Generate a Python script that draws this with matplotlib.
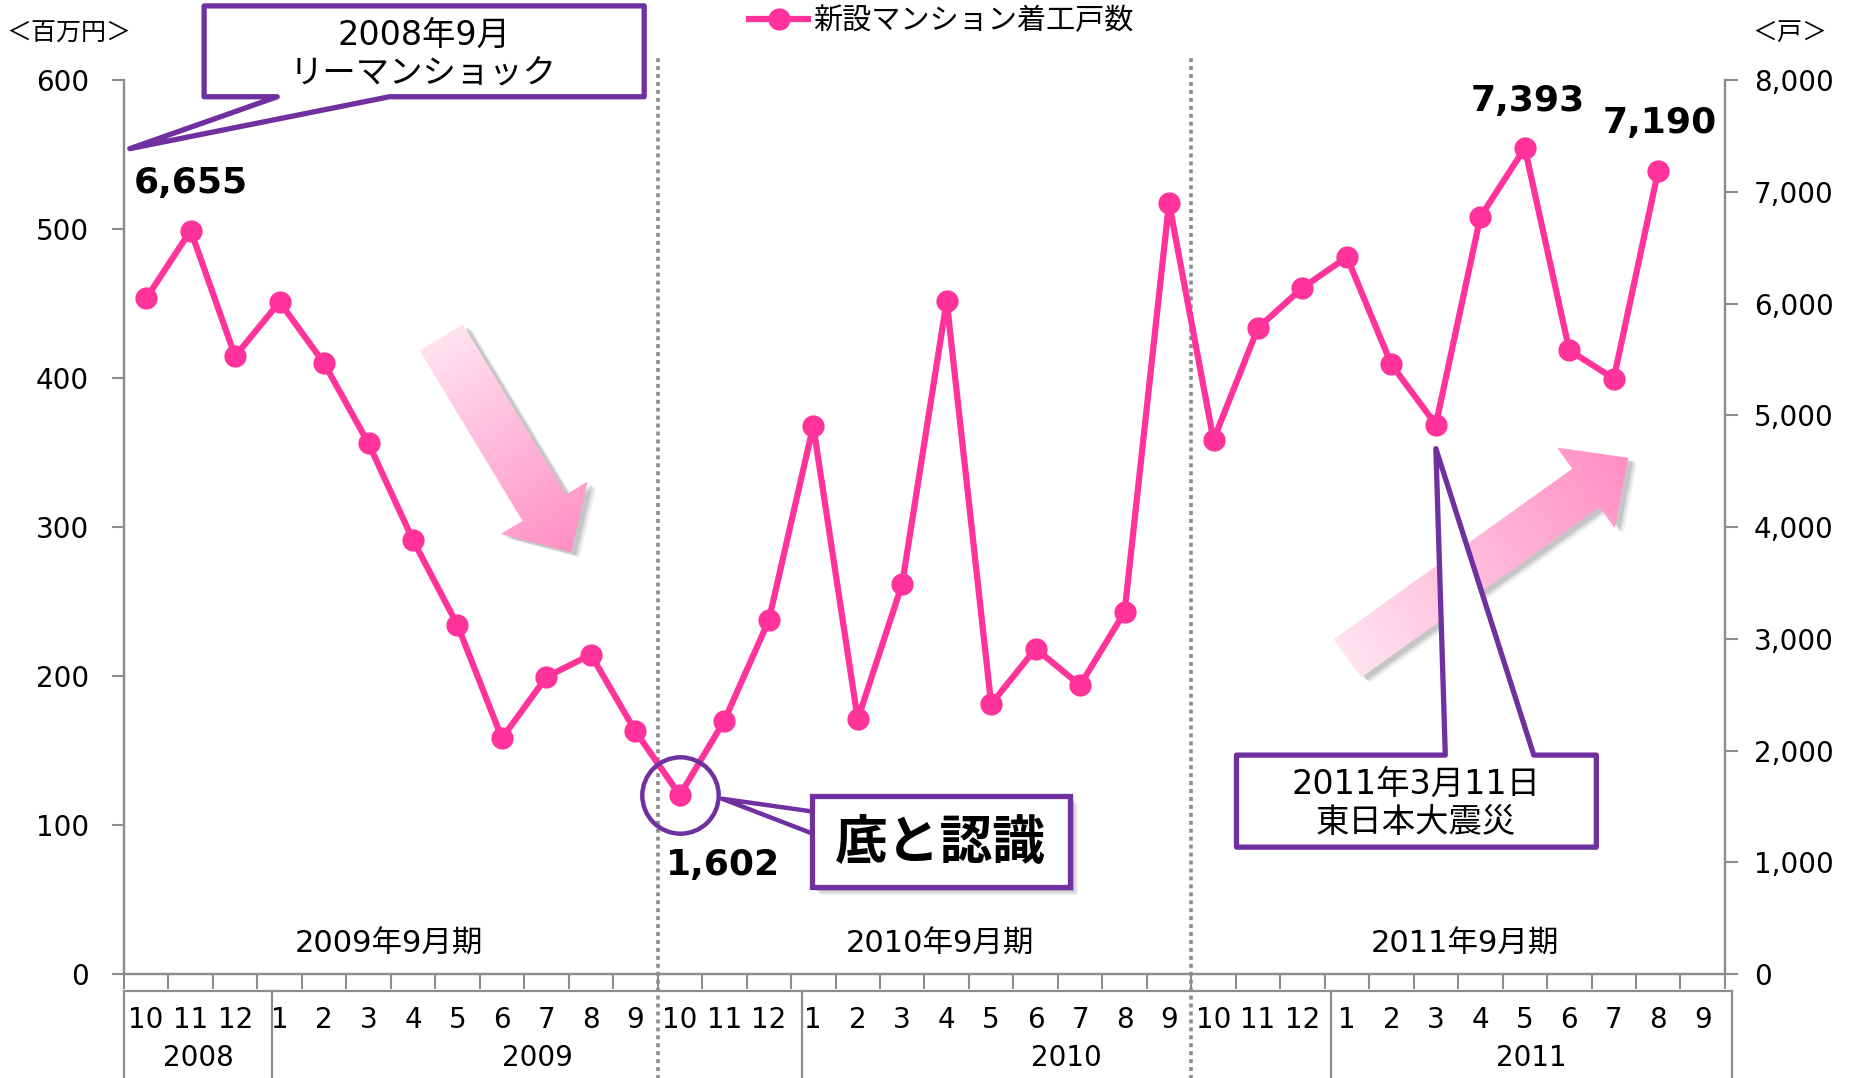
import numpy as np
import matplotlib
matplotlib.use('Agg')
import matplotlib.pyplot as plt
from matplotlib.patches import Polygon, Rectangle
from matplotlib.ticker import FuncFormatter

# DejaVu for digits (wide like the original), Noto for the Japanese glyphs
plt.rcParams['font.family'] = ['DejaVu Sans', 'Noto Sans CJK JP']

# 新設マンション着工戸数 (2008/10 - 2011/8)
starts = [6047, 6655, 5530, 6016, 5467, 4749, 3884, 3124, 2111, 2660, 2860, 2174,
          1602, 2269, 3166, 4908, 2280, 3493, 6026, 2417, 2913, 2586, 3240, 6902,
          4781, 5784, 6142, 6417, 5456, 4918, 6776, 7393, 5583, 5330, 7190]
month_labels = ['10', '11', '12'] + [str(m) for m in range(1, 10)] \
    + ['10', '11', '12'] + [str(m) for m in range(1, 10)] \
    + ['10', '11', '12'] + [str(m) for m in range(1, 10)]
year_labels = ['2008', '2009', '2010', '2011']
year_edges = [0, 3.33, 15.25, 27.14, 36.15]
period_labels = ['2009年9月期', '2010年9月期', '2011年9月期']
period_centers = [5.95, 18.35, 30.15]
left_ticks = [0, 100, 200, 300, 400, 500, 600]
right_ticks = [0, 1000, 2000, 3000, 4000, 5000, 6000, 7000, 8000]
peak_labels = {1: (0, 34), 12: (31, -50), 31: (2, 34), 34: (1, 34)}

PINK = '#FF3399'
PURPLE = '#7030A0'
GRAY = '#8C8C8C'
S = 1850 / 1568


def P(x, y):
    return (x * S, y * S)


fig = plt.figure(figsize=(18.5, 10.78), dpi=100)
ax = fig.add_axes([0.0670, 0.0963, 0.8654, 0.8293])
ax2 = ax.twinx()

n = len(month_labels)
x = np.arange(len(starts)) + 0.5
line, = ax2.plot(x, starts, color=PINK, lw=4.5, marker='o', ms=15,
                 mfc=PINK, mec=PINK, zorder=4)

ax.set_xlim(0, n)
ax.set_ylim(0, 600)
ax2.set_ylim(0, 8000)
ax.set_yticks(left_ticks)
ax2.set_yticks(right_ticks)
ax2.yaxis.set_major_formatter(FuncFormatter(lambda v, p: f'{int(v):,}'))
ax.set_xticks(range(n + 1))
ax.set_xticklabels([])

for a in (ax, ax2):
    a.spines['top'].set_visible(False)
    for s in ('left', 'right', 'bottom'):
        a.spines[s].set_color(GRAY)
        a.spines[s].set_linewidth(1.6)
ax.tick_params(axis='y', direction='out', length=9, width=1.5, color=GRAY,
               labelsize=20, pad=16)
ax2.tick_params(axis='y', direction='out', length=9, width=1.5, color=GRAY,
                labelsize=20, pad=12)
ax.tick_params(axis='x', direction='out', length=11, width=1.5, color=GRAY)

# fiscal-year dividers
for xd in (12, 24):
    ax.plot([xd, xd], [-0.13, 1.028], transform=ax.get_xaxis_transform(),
            color=GRAY, lw=2.6, ls=(0, (1.1, 1.1)), clip_on=False, zorder=1)

for lab, xc in zip(period_labels, period_centers):
    ax.text(xc, 0.034, lab, transform=ax.get_xaxis_transform(),
            ha='center', va='center', fontsize=22)

# month / year table under the axis
tr = ax.get_xaxis_transform()
ax.plot([0, year_edges[-1]], [-0.0185, -0.0185], transform=tr, color=GRAY,
        lw=1.6, clip_on=False)
for xe in year_edges:
    ax.plot([xe, xe], [-0.0185, -0.13], transform=tr, color=GRAY, lw=1.6,
            clip_on=False)
for i, m in enumerate(month_labels):
    ax.text(i + 0.5, -0.051, m, transform=tr, ha='center', va='center',
            fontsize=20)
for i, y in enumerate(year_labels):
    ax.text((year_edges[i] + year_edges[i + 1]) / 2, -0.094, y, transform=tr,
            ha='center', va='center', fontsize=20)

# value labels
for i, (dx, dy) in peak_labels.items():
    ax2.annotate(f'{starts[i]:,}', xy=(x[i], starts[i]), xytext=(dx, dy),
                 textcoords='offset points', ha='center', va='center',
                 fontsize=26, fontweight='bold', annotation_clip=False)

# circle at the bottom
ax2.plot(x[12], starts[12], marker='o', ms=55, mfc='none', mec=PURPLE,
         mew=3.2, zorder=5, clip_on=False)

# legend and units
fig.legend(handles=[line], labels=['新設マンション着工戸数'], loc='center',
           bbox_to_anchor=(0.509, 0.980), frameon=False, fontsize=21,
           handlelength=2.0, handletextpad=0.2, numpoints=1)
fig.text(0.037, 0.969, '＜百万円＞', ha='center', va='center', fontsize=18)
fig.text(0.9675, 0.969, '＜戸＞', ha='center', va='center', fontsize=18)

# overlay for callouts and arrows (figure pixel coordinates)
ov = fig.add_axes([0, 0, 1, 1], zorder=5)
ov.set_xlim(0, 1850)
ov.set_ylim(1078, 0)
ov.axis('off')
ov.set_autoscale_on(False)


def arrow(tail, tip, w, hw, hl, c0, c1):
    t = np.array(P(*tail))
    h = np.array(P(*tip))
    w, hw, hl = w * S, hw * S, hl * S
    d = h - t
    L = np.hypot(*d)
    u = d / L
    nrm = np.array([-u[1], u[0]])
    b = h - u * hl
    pts = [t + nrm * w / 2, b + nrm * w / 2, b + nrm * hw / 2, h,
           b - nrm * hw / 2, b - nrm * w / 2, t - nrm * w / 2]
    pts = np.array(pts)
    for k, al in ((9, 0.08), (7, 0.12), (5, 0.18)):
        ov.add_patch(Polygon(pts + np.array([k, k * 0.6]), closed=True,
                             fc='#555555', ec='none', alpha=al, zorder=1))
    poly = Polygon(pts, closed=True, fc='none', ec='none', zorder=2)
    ov.add_patch(poly)
    x0, y0 = pts.min(axis=0) - 2
    x1, y1 = pts.max(axis=0) + 2
    gx, gy = np.meshgrid(np.linspace(x0, x1, 200), np.linspace(y0, y1, 200))
    tt = ((gx - t[0]) * u[0] + (gy - t[1]) * u[1]) / L
    tt = np.clip(tt, 0, 1)[..., None]
    ca = np.array(matplotlib.colors.to_rgb(c0))
    cb = np.array(matplotlib.colors.to_rgb(c1))
    img = ca * (1 - tt) + cb * tt
    im = ov.imshow(img, extent=(x0, x1, y1, y0), origin='upper',
                   aspect='auto', zorder=2, interpolation='bilinear')
    im.set_clip_path(poly)


arrow((374, 286), (484, 468), 43, 86, 44, '#FFE3EF', '#FF8EC3')
arrow((1142, 558), (1380, 388), 40, 84, 44, '#FFE3EF', '#FF8EC3')

# リーマンショック callout
ov.add_patch(Polygon([P(173, 5), P(546, 5), P(546, 82), P(330, 82),
                      P(110, 126), P(235, 82), P(173, 82)], closed=True,
                     fc='white', ec=PURPLE, lw=3.8, joinstyle='round', zorder=3))
ov.text(*P(359, 30), '2008年9月', ha='center', va='center', fontsize=24, zorder=4)
ov.text(*P(359, 62), 'リーマンショック', ha='center', va='center', fontsize=24,
        zorder=4)

# 東日本大震災 callout, tip just under the March 2011 point
tip_disp = ax2.transData.transform((x[29], starts[29]))
tip = (tip_disp[0], 1078 - tip_disp[1] + 24)
ov.add_patch(Polygon([P(1048, 640), P(1225, 640), tip, P(1300, 640),
                      P(1353, 640), P(1353, 718), P(1048, 718)], closed=True,
                     fc='white', ec=PURPLE, lw=3.8, joinstyle='round', zorder=3))
ov.text(*P(1200, 665), '2011年3月11日', ha='center', va='center', fontsize=24,
        zorder=4)
ov.text(*P(1200, 697), '東日本大震災', ha='center', va='center', fontsize=24,
        zorder=4)

# 底と認識 callout
bx, by = P(688, 675)
bw, bh = 219 * S, 77 * S
for k, al in ((8, 0.10), (6, 0.15), (4, 0.22)):
    ov.add_patch(Rectangle((bx + k, by + k), bw, bh, fc='#555555', ec='none',
                           alpha=al, zorder=2))
ov.add_patch(Polygon([P(612, 677), P(690, 688), P(690, 707)], closed=True,
                     fc='white', ec=PURPLE, lw=3.2, joinstyle='round', zorder=3))
ov.add_patch(Rectangle((bx, by), bw, bh, fc='white', ec=PURPLE, lw=3.8,
                       zorder=3))
ov.add_patch(Rectangle((bx + 3, P(0, 686)[1]), 10, 23 * S, fc='white',
                       ec='none', zorder=3.5))
ov.text(*P(797, 716), '底と認識', ha='center', va='center', fontsize=38,
        fontweight='bold', family='Noto Sans CJK JP', zorder=4)

fig.savefig('out.png', dpi=100)
